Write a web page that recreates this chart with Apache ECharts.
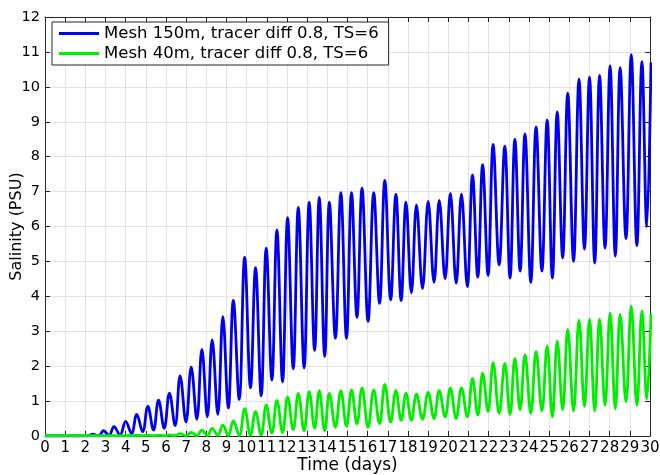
<!DOCTYPE html>
<html>
<head>
<meta charset="utf-8">
<script src="https://cdn.jsdelivr.net/npm/echarts@6/dist/echarts.min.js"></script>
<style>
  html, body { margin: 0; padding: 0; background: #fff; }
  #chart { width: 660px; height: 475px; }
</style>
</head>
<body>
<div id="chart"></div>
<script>
// tide timing (days): high-water peaks and low-water troughs
const peakDays = [2.37, 2.90, 3.42, 4.00, 4.55, 5.10, 5.63, 6.17, 6.70, 7.25, 7.78, 8.29, 8.82, 9.34,
  9.90, 10.44, 10.97, 11.50, 12.03, 12.56, 13.10, 13.60, 14.10, 14.67, 15.20, 15.72, 16.30, 16.85,
  17.40, 17.90, 18.42, 19.00, 19.55, 20.10, 20.65, 21.20, 21.70, 22.22, 22.80, 23.30, 23.80, 24.35,
  24.90, 25.40, 25.92, 26.48, 27.00, 27.50, 28.02, 28.52, 29.07, 29.60, 30.05]
const troughDays = [0, 2.10, 2.65, 3.18, 3.72, 4.29, 4.84, 5.38, 5.91, 6.45, 6.99, 7.53, 8.05, 8.57,
  9.09, 9.63, 10.19, 10.72, 11.25, 11.78, 12.31, 12.85, 13.37, 13.87, 14.40, 14.95, 15.47, 16.02,
  16.59, 17.14, 17.66, 18.17, 18.72, 19.29, 19.84, 20.39, 20.94, 21.46, 21.97, 22.52, 23.06, 23.56,
  24.09, 24.64, 25.16, 25.67, 26.21, 26.75, 27.26, 27.77, 28.28, 28.81, 29.35, 29.84]

// Mesh 150m salinity (PSU)
const bluePeaks = [0.05, 0.15, 0.27, 0.42, 0.62, 0.85, 1.03, 1.23, 1.72, 1.97, 2.48, 2.75, 3.42, 3.88,
  5.12, 4.82, 5.38, 5.90, 6.25, 6.55, 6.70, 6.83, 6.70, 6.97, 6.97, 7.10, 6.97, 7.32,
  6.92, 6.70, 6.62, 6.72, 6.75, 6.95, 6.93, 7.47, 7.77, 8.35, 8.30, 8.50, 8.65, 8.85,
  9.05, 9.28, 9.82, 10.22, 10.28, 10.33, 10.60, 10.55, 10.92, 10.72, 10.70]
const blueTroughs = [0, 0, 0.00, 0.02, 0.03, 0.07, 0.12, 0.17, 0.22, 0.30, 0.40, 0.48, 0.55, 0.62,
  0.80, 1.05, 1.38, 1.15, 1.60, 1.55, 1.92, 1.95, 2.45, 2.28, 2.80, 2.80, 3.40, 3.28,
  3.80, 3.90, 3.88, 4.10, 4.22, 4.40, 4.50, 4.38, 4.28, 4.55, 4.60, 4.90, 4.52, 4.72,
  4.40, 4.72, 4.52, 5.10, 5.00, 5.35, 4.95, 5.38, 5.15, 5.65, 5.45, 6.00]

// Mesh 40m salinity (PSU)
const greenPeaks = [0.01, 0.01, 0.01, 0.01, 0.02, 0.02, 0.02, 0.03, 0.07, 0.10, 0.17, 0.22, 0.32, 0.43,
  0.78, 0.70, 0.88, 1.02, 1.12, 1.22, 1.27, 1.30, 1.22, 1.30, 1.32, 1.38, 1.32, 1.48,
  1.30, 1.22, 1.20, 1.25, 1.30, 1.37, 1.38, 1.65, 1.80, 2.10, 2.08, 2.22, 2.33, 2.42,
  2.58, 2.72, 3.05, 3.32, 3.35, 3.35, 3.52, 3.48, 3.72, 3.58, 3.50]
const greenTroughs = [0.01, 0.01, 0.01, 0.01, 0.01, 0.01, 0.01, 0.01, 0.01, 0.01, 0.01, 0.01, 0.01, 0.01,
  0.01, 0.01, 0.02, 0.03, 0.08, 0.10, 0.18, 0.15, 0.22, 0.15, 0.25, 0.28, 0.35, 0.25,
  0.35, 0.40, 0.45, 0.45, 0.48, 0.50, 0.55, 0.50, 0.55, 0.60, 0.70, 0.65, 0.62, 0.75,
  0.65, 0.72, 0.55, 0.75, 0.72, 0.85, 0.72, 0.88, 0.78, 0.98, 0.88, 1.05]

const seriesNames = ['Mesh 150m, tracer diff 0.8, TS=6', 'Mesh 40m, tracer diff 0.8, TS=6']

function buildLine(peaks, troughs) {
  const pts = []
  peakDays.forEach((d, i) => pts.push([d, peaks[i]]))
  troughDays.forEach((d, i) => pts.push([d, troughs[i]]))
  return pts.sort((a, b) => a[0] - b[0])
}

const chart = echarts.init(document.getElementById('chart'), null, { renderer: 'canvas' })
const font = 'DejaVu Sans'
const axisColor = '#262626'

const option = {
  animation: false,
  backgroundColor: '#fff',
  grid: { left: 45, right: 10, top: 17, bottom: 39, containLabel: false, outerBoundsMode: 'none' },
  legend: {
    orient: 'vertical',
    left: 52,
    top: 22,
    padding: [3, 10, 3, 7],
    itemGap: 3,
    itemWidth: 40,
    itemHeight: 3,
    itemTextGap: 5,
    icon: 'rect',
    backgroundColor: '#fff',
    borderColor: axisColor,
    borderWidth: 1,
    borderRadius: 0,
    textStyle: { fontFamily: font, fontSize: 16.5, color: '#000', lineHeight: 17 },
    data: seriesNames
  },
  xAxis: [{
    type: 'value',
    min: 0,
    max: 30,
    interval: 1,
    name: 'Time (days)',
    nameLocation: 'middle',
    nameGap: 21,
    nameMoveOverlap: false,
    nameTextStyle: { fontFamily: font, fontSize: 17, color: '#000' },
    axisLine: { lineStyle: { color: axisColor } },
    axisTick: { inside: true, length: 5, lineStyle: { color: axisColor } },
    axisLabel: { fontFamily: font, fontSize: 15, color: '#000', margin: 5 },
    splitLine: { show: true, lineStyle: { color: '#e3e3e3' } }
  }, {
    type: 'value',
    position: 'top',
    min: 0,
    max: 30,
    interval: 1,
    axisLine: { show: true, onZero: false, lineStyle: { color: axisColor } },
    axisTick: { inside: true, length: 5, lineStyle: { color: axisColor } },
    axisLabel: { show: false },
    splitLine: { show: false }
  }],
  yAxis: [{
    type: 'value',
    min: 0,
    max: 12,
    interval: 1,
    name: 'Salinity (PSU)',
    nameLocation: 'middle',
    nameGap: 20,
    nameMoveOverlap: false,
    nameTextStyle: { fontFamily: font, fontSize: 16, color: '#000' },
    axisLine: { show: true, lineStyle: { color: axisColor } },
    axisTick: { show: true, inside: true, length: 5, lineStyle: { color: axisColor } },
    axisLabel: { fontFamily: font, fontSize: 14.5, color: '#000', margin: 5 },
    splitLine: { show: true, lineStyle: { color: '#e3e3e3' } }
  }, {
    type: 'value',
    position: 'right',
    min: 0,
    max: 12,
    interval: 1,
    axisLine: { show: true, onZero: false, lineStyle: { color: axisColor } },
    axisTick: { show: true, inside: true, length: 5, lineStyle: { color: axisColor } },
    axisLabel: { show: false },
    splitLine: { show: false }
  }],
  series: [{
    name: seriesNames[0],
    type: 'line',
    data: buildLine(bluePeaks, blueTroughs),
    symbol: 'none',
    smooth: 0.4,
    lineStyle: { color: '#0000ee', width: 2.8 },
    itemStyle: { color: '#0000ee' }
  }, {
    name: seriesNames[1],
    type: 'line',
    data: buildLine(greenPeaks, greenTroughs),
    symbol: 'none',
    smooth: 0.4,
    lineStyle: { color: '#00ee00', width: 2.8 },
    itemStyle: { color: '#00ee00' }
  }]
}

chart.setOption(option)
</script>
</body>
</html>
